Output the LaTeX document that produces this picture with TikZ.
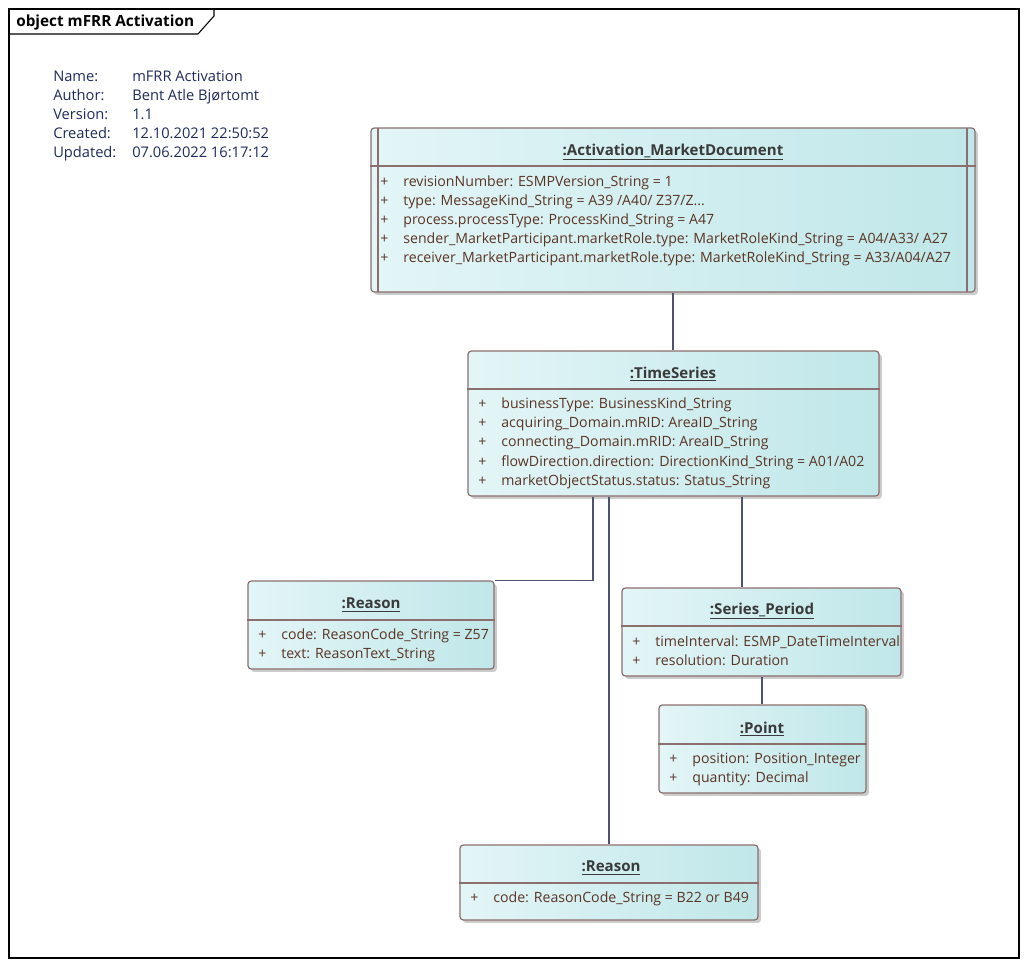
\documentclass[tikz,border=0pt]{standalone}
\usepackage{fontspec}
\setmainfont{Open Sans}
\usetikzlibrary{fit,shadows,calc}
\definecolor{boxL}{HTML}{E3F5F7}
\definecolor{boxR}{HTML}{C0E7E9}
\definecolor{boxD}{HTML}{8C6E6E}
\definecolor{conn}{HTML}{4C5372}
\definecolor{attr}{HTML}{5A3424}
\definecolor{ttl}{HTML}{3A3A3A}
\definecolor{meta}{HTML}{1E2B5C}
\tikzset{
  umlbox/.style={fit={#1}, inner sep=0pt, draw=boxD, line width=0.9pt,
    rounded corners=2.5pt, left color=boxL, right color=boxR,
    drop shadow={shadow xshift=2.2pt, shadow yshift=-2.2pt, fill=black!40, opacity=0.5}},
  sepline/.style={draw=boxD, line width=0.8pt},
  ttlS/.style={font=\bfseries\fontsize{11.3}{13}\selectfont, text=ttl, inner sep=0pt, yshift=-1.5pt},
  attrS/.style={anchor=west, font=\fontsize{10.6}{12}\selectfont, text=attr, inner sep=0pt, text height=8pt, text depth=2.4pt, yshift=-1.1pt},
  metaS/.style={anchor=west, font=\fontsize{11}{12}\selectfont, text=meta, inner sep=0pt, text height=8pt, text depth=2.4pt, yshift=-1.1pt},
  connS/.style={draw=conn, line width=0.8pt},
}
\newcommand\attrrow[4]{\node[attrS] (#1) at (#2,#3) {\makebox[17.3pt][l]{+}#4};}
\newcommand\umltitle[4]{\node[ttlS] (#1) at (#2,#3) {\underline{#4}};}
\begin{document}
\begin{tikzpicture}[x=0.75pt,y=-0.75pt]
\useasboundingbox (0,0) rectangle (1028,966);
% frame
\node[fit={(9,9) (1019,958)}, inner sep=0pt, draw=black, line width=0.8pt] (frame) {};
\draw[line width=0.8pt] (9,34) -- (198,34) -- (214,16) -- (214,9);
\node[anchor=west, inner sep=0pt, font=\bfseries\fontsize{11.5}{13}\selectfont, yshift=-0.8pt] (ftitle) at (16,21) {object mFRR Activation};
% metadata
\node[metaS] (mn1) at (53,76) {Name:};
\node[metaS] (mv1) at (132,76) {mFRR Activation};
\node[metaS] (mn2) at (53,95) {Author:};
\node[metaS] (mv2) at (132,95) {Bent Atle Bjørtomt};
\node[metaS] (mn3) at (53,114) {Version:};
\node[metaS] (mv3) at (132,114) {1.1};
\node[metaS] (mn4) at (53,133) {Created:};
\node[metaS] (mv4) at (132,133) {12.10.2021 22:50:52};
\node[metaS] (mn5) at (53,152) {Updated:};
\node[metaS] (mv5) at (132,152) {07.06.2022 16:17:12};

% boxes
\node[umlbox={(371,128) (975,292)}] (amd) {};
\node[umlbox={(468,351) (879,496)}] (ts) {};
\node[umlbox={(248,581) (494,669)}] (rl) {};
\node[umlbox={(622,588) (901,676)}] (sp) {};
\node[umlbox={(659,705) (866,793)}] (pt) {};
\node[umlbox={(460,845) (758,920)}] (rb) {};

% Activation_MarketDocument
\draw[sepline] (378,128) -- (378,292);
\draw[sepline] (967,128) -- (967,292);
\draw[sepline] (amd.west |- 0,166) -- (amd.east |- 0,166);
\umltitle{amdT}{673}{150}{:Activation\_MarketDocument}
\attrrow{amd1}{380}{181}{revisionNumber: ESMPVersion\_String = 1}
\attrrow{amd2}{380}{200}{type: MessageKind\_String = A39 /A40/ Z37/Z...}
\attrrow{amd3}{380}{219}{process.processType: ProcessKind\_String = A47}
\attrrow{amd4}{380}{238}{sender\_MarketParticipant.marketRole.type: MarketRoleKind\_String = A04/A33/ A27}
\attrrow{amd5}{380}{257}{receiver\_MarketParticipant.marketRole.type: MarketRoleKind\_String = A33/A04/A27}

% TimeSeries
\draw[sepline] (ts.west |- 0,389) -- (ts.east |- 0,389);
\umltitle{tsT}{673}{372}{:TimeSeries}
\attrrow{ts1}{478}{403}{businessType: BusinessKind\_String}
\attrrow{ts2}{478}{422}{acquiring\_Domain.mRID: AreaID\_String}
\attrrow{ts3}{478}{441}{connecting\_Domain.mRID: AreaID\_String}
\attrrow{ts4}{478}{461}{flowDirection.direction: DirectionKind\_String = A01/A02}
\attrrow{ts5}{478}{480}{marketObjectStatus.status: Status\_String}

% Reason left
\draw[sepline] (rl.west |- 0,620) -- (rl.east |- 0,620);
\umltitle{rlT}{371}{603}{:Reason}
\attrrow{rl1}{258}{634}{code: ReasonCode\_String = Z57}
\attrrow{rl2}{258}{653}{text: ReasonText\_String}

% Series_Period
\draw[sepline] (sp.west |- 0,626) -- (sp.east |- 0,626);
\umltitle{spT}{762}{609}{:Series\_Period}
\attrrow{sp1}{632}{641}{timeInterval: ESMP\_DateTimeInterval}
\attrrow{sp2}{632}{660}{resolution: Duration}

% Point
\draw[sepline] (pt.west |- 0,744) -- (pt.east |- 0,744);
\umltitle{ptT}{762}{727}{:Point}
\attrrow{pt1}{669}{758}{position: Position\_Integer}
\attrrow{pt2}{669}{777}{quantity: Decimal}

% Reason bottom
\draw[sepline] (rb.west |- 0,883) -- (rb.east |- 0,883);
\umltitle{rbT}{611}{866}{:Reason}
\attrrow{rb1}{470}{897}{code: ReasonCode\_String = B22 or B49}

% connectors
\draw[connS] (amd.south -| 673,0) -- (ts.north -| 673,0);
\draw[connS] (ts.south -| 593,0) |- (rl.north east);
\draw[connS] (ts.south -| 609,0) -- (rb.north -| 609,0);
\draw[connS] (ts.south -| 742,0) -- (sp.north -| 742,0);
\draw[connS] (sp.south -| 762,0) -- (pt.north -| 762,0);
\end{tikzpicture}
\end{document}
